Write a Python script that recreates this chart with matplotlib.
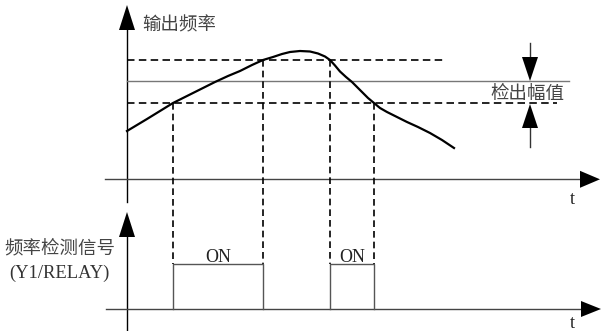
import matplotlib.pyplot as plt

# Coordinate in pixel del disegno originale (asse y verso il basso)
plt.rcParams['font.family'] = ['Noto Sans CJK SC', 'DejaVu Sans']

# Curva della frequenza di uscita
curve_x = [127, 137, 147, 160, 173, 185, 195, 205, 215, 228, 240, 252, 263, 273, 282, 290,
           300, 310, 318, 325, 330, 335, 340, 346, 352, 358, 363, 368, 374, 380, 387, 397,
           407, 418, 430, 442, 454]
curve_y = [131, 125, 119, 111, 103, 97, 92, 87, 82, 76, 71, 65, 60, 57, 54, 52,
           51, 51.5, 53.5, 56.5, 60, 65.5, 71.5, 77, 82, 88, 93, 98, 103, 108, 112, 117,
           122, 127, 133, 140, 148]

# Livelli: soglia superiore, frequenza di rilevamento, soglia inferiore
level_upper = 60
level_detect = 81
level_lower = 103

# Istanti di commutazione e impulsi ON
switch_x = [173, 263, 330, 374]
switch_top = [level_lower, level_upper, level_upper, level_lower]
on_start = [173, 330]
on_end = [263, 374]
on_labels = ['ON', 'ON']
pulse_high = 264
pulse_base = 309

fig = plt.figure(figsize=(6.01, 3.31), dpi=100)
ax = fig.add_axes([0, 0, 1, 1])
ax.set_xlim(0, 601)
ax.set_ylim(331, 0)
ax.axis('off')

axis_x = 127
top_axis_y = 179.3


def arrow_head(x, y, direction, length=24, width=16, color='black'):
    # triangolo pieno con la punta in (x, y)
    half = width / 2
    if direction == 'up':
        pts = [(x, y), (x - half, y + length), (x + half, y + length)]
    elif direction == 'down':
        pts = [(x, y), (x - half, y - length), (x + half, y - length)]
    else:
        pts = [(x, y), (x - length, y - half), (x - length, y + half)]
    xs, ys = zip(*pts)
    ax.fill(xs, ys, color=color, lw=0, zorder=5)


# ---- grafico superiore ----
ax.plot([axis_x, axis_x], [28, 202], color='black', lw=1.0)
arrow_head(axis_x, 5, 'up', length=25, width=16)
ax.plot([105, 582], [top_axis_y, top_axis_y], color='#444444', lw=1.0)
arrow_head(600, top_axis_y, 'right', length=20, width=17)
ax.text(572, 199, 't', family='Liberation Serif', fontsize=13, ha='center', va='center', color='#222222')
ax.text(142, 25, '输出频率', fontsize=13.3, ha='left', va='center', color='#444444')

dash = (0, (4.5, 2.6))
ax.plot([axis_x, 443], [level_upper, level_upper], color='black', lw=1.2, linestyle=dash)
ax.plot([axis_x, 557], [level_lower, level_lower], color='black', lw=1.2, linestyle=dash)
ax.plot([axis_x, 569], [level_detect, level_detect], color='#777777', lw=1.0)

ax.plot(curve_x, curve_y, color='black', lw=1.6, solid_joinstyle='round', zorder=4)

for x, yt in zip(switch_x, switch_top):
    ax.plot([x, x], [yt, pulse_high], color='black', lw=1.2, linestyle=(0, (4.0, 2.4)))

# indicazione dell'ampiezza di rilevamento
ax.plot([530, 530], [43, 58], color='#333333', lw=1.0)
arrow_head(530, level_detect, 'down', length=24, width=16)
ax.plot([530, 530], [126, 147], color='#333333', lw=1.0)
arrow_head(530, level_lower + 1, 'up', length=24, width=16)
ax.text(490, 94, '检出幅值', fontsize=13.3, ha='left', va='center', color='#444444')

# ---- grafico inferiore ----
ax.plot([axis_x, axis_x], [236, 330], color='black', lw=1.0)
arrow_head(axis_x, 212, 'up', length=25, width=16)
ax.plot([106, 582], [pulse_base, pulse_base], color='#444444', lw=1.0)
arrow_head(601, pulse_base, 'right', length=20, width=16)
ax.text(572, 323, 't', family='Liberation Serif', fontsize=13, ha='center', va='center', color='#222222')
ax.text(4, 248, '频率检测信号', fontsize=13.3, ha='left', va='center', color='#444444')
ax.text(59, 273, '(Y1/RELAY)', family='Liberation Serif', fontsize=13.3, ha='center', va='center', color='#333333')

for xs, xe, lab in zip(on_start, on_end, on_labels):
    ax.plot([xs, xs, xe, xe], [pulse_base, pulse_high, pulse_high, pulse_base], color='#555555', lw=1.0)
    ax.text((xs + xe) / 2, pulse_high - 1.5, lab, family='Liberation Serif', fontsize=13,
            ha='center', va='baseline', color='#222222')

plt.savefig('out.png', dpi=100)
